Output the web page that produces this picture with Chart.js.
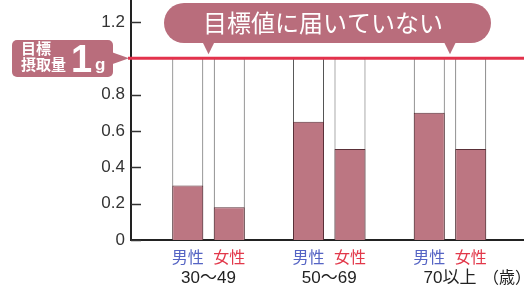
<!DOCTYPE html>
<html>
<head>
<meta charset="utf-8">
<script src="https://cdn.jsdelivr.net/npm/chart.js@4.4.0/dist/chart.umd.min.js"></script>
<style>
html, body { margin: 0; padding: 0; background: #fff; }
</style>
</head>
<body>
<canvas id="myChart" width="524" height="285"></canvas>
<script>
var ageGroups = ['30～49', '50～69', '70以上'];
var sexLabels = ['男性', '女性'];
var maleValues = [0.30, 0.65, 0.70];
var femaleValues = [0.18, 0.50, 0.50];
var targetValue = 1.0;
var yTicks = [0, 0.2, 0.4, 0.6, 0.8, 1.2];
var calloutText = '目標値に届いていない';
var calloutGroups = [0, 2];

var barFill = '#bc7682';
var calloutFill = '#b96d7c';
var latin = "'Liberation Sans', 'Noto Sans CJK JP', sans-serif";
var cjk = "'Noto Sans CJK JP', sans-serif";

function points(values) {
    return values.map(function (v, i) { return { x: i, y: v }; });
}

function roundRect(ctx, x, y, w, h, r) {
    ctx.beginPath();
    ctx.moveTo(x + r, y);
    ctx.lineTo(x + w - r, y);
    ctx.arcTo(x + w, y, x + w, y + r, r);
    ctx.lineTo(x + w, y + h - r);
    ctx.arcTo(x + w, y + h, x + w - r, y + h, r);
    ctx.lineTo(x + r, y + h);
    ctx.arcTo(x, y + h, x, y + h - r, r);
    ctx.lineTo(x, y + r);
    ctx.arcTo(x, y, x + r, y, r);
    ctx.closePath();
}

var decorations = {
    id: 'decorations',
    afterDatasetsDraw: function (chart) {
        var ctx = chart.ctx;
        var xs = chart.scales.x;
        var ys = chart.scales.y;
        var left = chart.chartArea.left;
        ctx.save();

        // inward tick marks
        ctx.strokeStyle = '#333';
        ctx.lineWidth = 1.5;
        yTicks.forEach(function (t) {
            var py = Math.round(ys.getPixelForValue(t)) + 0.5;
            ctx.beginPath();
            ctx.moveTo(left, py);
            ctx.lineTo(left + 10, py);
            ctx.stroke();
        });

        // target line
        var ty = ys.getPixelForValue(targetValue);
        ctx.strokeStyle = '#e3324c';
        ctx.lineWidth = 3;
        ctx.beginPath();
        ctx.moveTo(left - 3, ty);
        ctx.lineTo(chart.width, ty);
        ctx.stroke();

        // callout bubble
        ctx.fillStyle = calloutFill;
        roundRect(ctx, 164, 3, 327, 40, 20);
        ctx.fill();
        calloutGroups.forEach(function (g) {
            var px = xs.getPixelForValue(g);
            ctx.beginPath();
            ctx.moveTo(px - 6, 42);
            ctx.lineTo(px + 6, 42);
            ctx.lineTo(px, ty - 4);
            ctx.closePath();
            ctx.fill();
        });
        ctx.fillStyle = '#fff';
        ctx.font = '24px ' + cjk;
        ctx.textAlign = 'center';
        ctx.textBaseline = 'middle';
        ctx.fillText(calloutText, 323, 23);

        // target label box
        ctx.fillStyle = calloutFill;
        roundRect(ctx, 12, 40, 101, 37, 5);
        ctx.fill();
        ctx.beginPath();
        ctx.moveTo(112, ty - 6);
        ctx.lineTo(left - 2, ty);
        ctx.lineTo(112, ty + 6);
        ctx.closePath();
        ctx.fill();
        ctx.fillStyle = '#fff';
        ctx.textAlign = 'left';
        ctx.font = 'bold 15px ' + cjk;
        ctx.fillText('目標', 21, 48);
        ctx.fillText('摂取量', 21, 64);
        ctx.textBaseline = 'alphabetic';
        ctx.font = "bold 38px 'Liberation Sans Narrow', " + latin;
        ctx.fillText('1', 71, 72);
        ctx.font = 'bold 17px ' + latin;
        ctx.fillText('g', 95, 70);
        ctx.textBaseline = 'middle';

        // sex labels under the bars
        ctx.font = '16px ' + cjk;
        ctx.textAlign = 'center';
        var colors = ['#5564c4', '#e2384a'];
        [0, 1].forEach(function (d) {
            chart.getDatasetMeta(d).data.forEach(function (bar) {
                ctx.fillStyle = colors[d];
                ctx.fillText(sexLabels[d], bar.x, 257);
            });
        });

        // unit
        ctx.fillStyle = '#222';
        ctx.font = '16px ' + cjk;
        ctx.textAlign = 'right';
        ctx.fillText('（歳）', 531, 277);
        ctx.restore();
    }
};

var ctx = document.getElementById('myChart').getContext('2d');
var myChart = new Chart(ctx, {
    type: 'bar',
    data: {
        datasets: [
            { label: sexLabels[0], data: points(maleValues), stack: 'm', backgroundColor: barFill, borderColor: '#5a3038', borderWidth: 1 },
            { label: sexLabels[1], data: points(femaleValues), stack: 'f', backgroundColor: barFill, borderColor: '#5a3038', borderWidth: 1 },
            { label: 'ref-m', data: points(maleValues.map(function () { return targetValue; })), stack: 'm', backgroundColor: '#fff', borderColor: '#555', borderWidth: 1 },
            { label: 'ref-f', data: points(femaleValues.map(function () { return targetValue; })), stack: 'f', backgroundColor: '#fff', borderColor: '#555', borderWidth: 1 }
        ]
    },
    options: {
        responsive: false,
        animation: false,
        devicePixelRatio: 1,
        categoryPercentage: 0.687,
        barPercentage: 0.747,
        layout: { padding: 0 },
        plugins: { legend: { display: false }, tooltip: { enabled: false } },
        scales: {
            x: {
                type: 'linear',
                min: -0.642,
                max: 2.613,
                offset: false,
                stacked: true,
                afterBuildTicks: function (s) { s.ticks = ageGroups.map(function (a, i) { return { value: i }; }); },
                afterFit: function (s) { s.height = 45; s.paddingLeft = 0; s.paddingRight = 0; },
                grid: { display: false, drawTicks: false, offset: false },
                border: { display: true, color: '#222', width: 2 },
                ticks: {
                    padding: 28,
                    color: '#222',
                    font: { size: 17, family: latin },
                    maxRotation: 0,
                    autoSkip: false,
                    callback: function (v) { return ageGroups[v]; }
                }
            },
            y: {
                min: 0,
                max: 1.32,
                stacked: false,
                afterBuildTicks: function (s) { s.ticks = yTicks.map(function (v) { return { value: v }; }); },
                afterFit: function (s) { s.width = 131; s.paddingTop = 0; s.paddingBottom = 0; },
                grid: { display: false, drawTicks: false },
                border: { display: true, color: '#222', width: 2 },
                ticks: {
                    padding: 6,
                    color: '#333',
                    font: { size: 17, family: latin },
                    callback: function (v) { return v === 0 ? '0' : v.toFixed(1); }
                }
            }
        }
    },
    plugins: [decorations]
});
</script>
</body>
</html>
